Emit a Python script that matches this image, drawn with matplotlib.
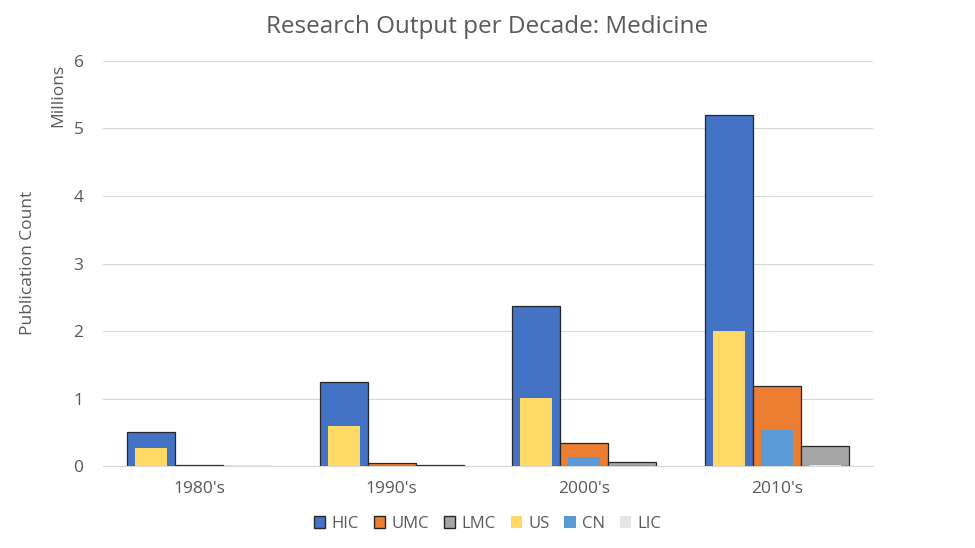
import numpy as np
import matplotlib
matplotlib.use("Agg")
import matplotlib.pyplot as plt
from matplotlib.patches import Patch

plt.rcParams['font.family'] = ['Open Sans', 'DejaVu Sans']

decades = ["1980's", "1990's", "2000's", "2010's"]
# millions of publications
hic = [0.50, 1.24, 2.37, 5.20]
umc = [0.01, 0.05, 0.34, 1.19]
lmc = [0.005, 0.02, 0.06, 0.30]
us = [0.27, 0.59, 1.01, 2.00]
cn = [0.0, 0.0, 0.14, 0.54]
lic = [0.0, 0.0, 0.004, 0.02]

grey = '#595959'
edge = '#262626'
fs = 12.5

fig = plt.figure(figsize=(9.75, 5.48), dpi=100)
ax = fig.add_axes([0.1056, 0.1496, 0.7898, 0.7391])

x = np.arange(len(decades))
w = 0.25
w2 = 0.166

# primary series, wide bars with outline
ax.bar(x - w, hic, w, color='#4472C4', edgecolor=edge, linewidth=0.9, zorder=2)
ax.bar(x, umc, w, color='#ED7D31', edgecolor=edge, linewidth=0.9, zorder=2)
ax.bar(x + w, lmc, w, color='#A5A5A5', edgecolor=edge, linewidth=0.9, zorder=2)
# secondary series drawn inside
ax.bar(x - w, us, w2, color='#FFD966', zorder=3)
ax.bar(x, cn, w2, color='#5B9BD5', zorder=3)
ax.bar(x + w, lic, w2, color='#E7E6E6', zorder=3)

ax.set_xlim(-0.5, len(decades) - 0.5)
ax.set_ylim(0, 6)
ax.set_yticks(range(7))
ax.set_xticks(x)
ax.set_xticklabels(decades)
ax.grid(axis='y', color='#D9D9D9', linewidth=0.8, zorder=0)
ax.tick_params(length=0, colors=grey, labelsize=fs)
ax.tick_params(axis='x', pad=11)
ax.tick_params(axis='y', pad=14)
for s in ['left', 'right', 'top']:
    ax.spines[s].set_visible(False)
ax.spines['bottom'].set_color('#D9D9D9')

fig.text(0.5, 0.951, "Research Output per Decade: Medicine", color=grey, fontsize=17.5,
         ha='center', va='center')
fig.text(0.029, 0.52, "Publication Count", rotation=90, color=grey, fontsize=fs,
         ha='center', va='center')
fig.text(0.0595, 0.825, "Millions", rotation=90, color=grey, fontsize=fs,
         ha='center', va='center')

handles = [
    Patch(facecolor='#4472C4', edgecolor=edge, label='HIC'),
    Patch(facecolor='#ED7D31', edgecolor=edge, label='UMC'),
    Patch(facecolor='#A5A5A5', edgecolor=edge, label='LMC'),
    Patch(facecolor='#FFD966', label='US'),
    Patch(facecolor='#5B9BD5', label='CN'),
    Patch(facecolor='#E7E6E6', label='LIC'),
]
leg = fig.legend(handles=handles, loc='center', bbox_to_anchor=(0.5, 0.044), ncol=6,
                 frameon=False, fontsize=12, handlelength=0.7, handleheight=0.7,
                 handletextpad=0.35, columnspacing=0.9)
for t in leg.get_texts():
    t.set_color(grey)

fig.savefig('out.png', dpi=100)
